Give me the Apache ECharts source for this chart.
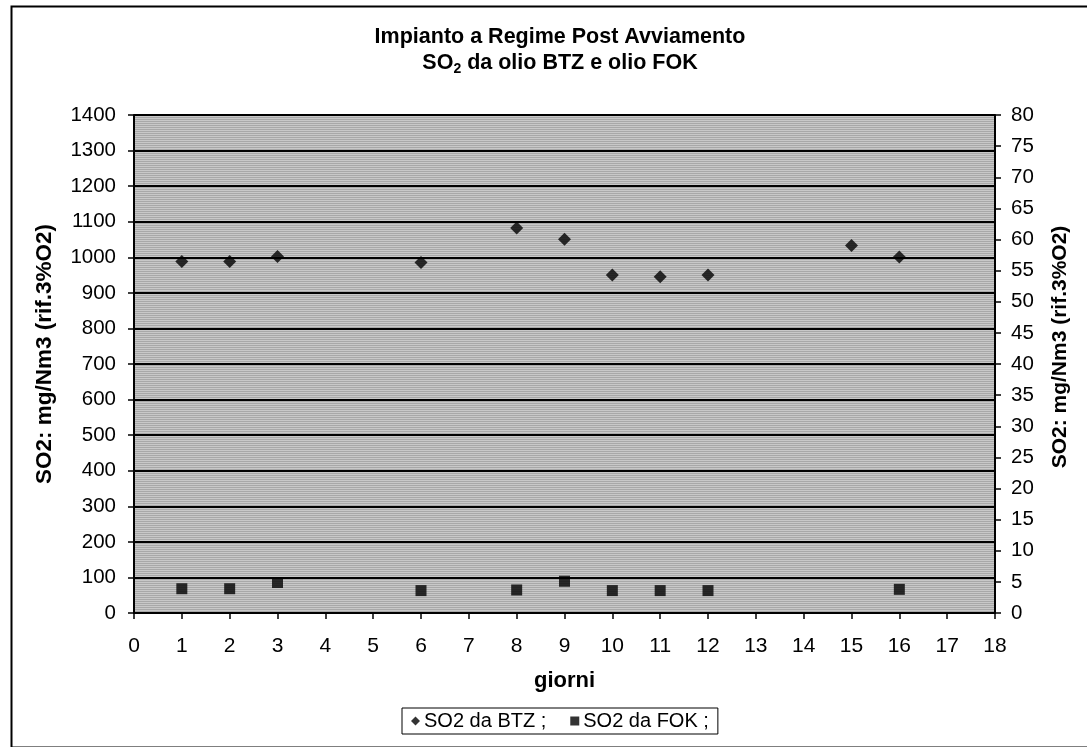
<!DOCTYPE html>
<html>
<head>
<meta charset="utf-8">
<script src="https://cdn.jsdelivr.net/npm/echarts@6/dist/echarts.min.js"></script>
<style>
html,body{margin:0;padding:0;background:#fff;}
#chart{width:1087px;height:747px;}
</style>
</head>
<body>
<div id="chart"></div>
<script>
// Data
var btzDays = [1, 2, 3, 6, 8, 9, 10, 11, 12, 15, 16];
var btzValues = [988, 988, 1002, 985, 1082, 1051, 950, 945, 950, 1033, 1001];
var fokDays = [1, 2, 3, 6, 8, 9, 10, 11, 12, 16];
var fokValues = [3.9, 3.9, 4.9, 3.6, 3.7, 5.1, 3.6, 3.6, 3.6, 3.8];
var seriesNames = ['SO2 da BTZ ;', 'SO2 da FOK ;'];
var titleLines = ['Impianto a Regime Post Avviamento', 'SO{sub|2} da olio BTZ e olio FOK'];
var axisNameLeft = 'SO2: mg/Nm3 (rif.3%O2)';
var axisNameRight = 'SO2: mg/Nm3 (rif.3%O2)';
var xName = 'giorni';

function pairs(xs, ys) { return xs.map(function (x, i) { return [x, ys[i]]; }); }
function plain(v) { return String(v); }

// background texture (decorative)
var pc = document.createElement('canvas');
pc.width = 4; pc.height = 4;
var ctx = pc.getContext('2d');
ctx.fillStyle = '#c8c8c8'; ctx.fillRect(0, 0, 4, 4);
ctx.fillStyle = '#a8a8a8'; ctx.fillRect(0, 1, 4, 1); ctx.fillRect(0, 3, 4, 1);

var FONT = 'Liberation Sans, Arial, sans-serif';
var chart = echarts.init(document.getElementById('chart'));
chart.setOption({
  animation: false,
  backgroundColor: '#ffffff',
  textStyle: { fontFamily: FONT, color: '#000' },
  title: {
    left: 560,
    textAlign: 'center',
    top: 24,
    padding: 0,
    text: titleLines.join('\n'),
    textStyle: {
      fontFamily: FONT, fontWeight: 'bold', fontSize: 21.5, lineHeight: 26, color: '#000',
      rich: { sub: { fontFamily: FONT, fontWeight: 'bold', fontSize: 14, verticalAlign: 'bottom', padding: [9, 0, 0, 0], lineHeight: 26 } }
    }
  },
  legend: {
    left: 402,
    top: 708,
    padding: [3, 9, 3, 9],
    borderColor: '#000',
    borderWidth: 1,
    itemWidth: 9,
    itemHeight: 9,
    itemGap: 24,
    textStyle: { fontFamily: FONT, fontSize: 20, color: '#000', padding: [0, 0, 0, -1] },
    data: [
      { name: seriesNames[0], icon: 'diamond' },
      { name: seriesNames[1], icon: 'rect' }
    ]
  },
  graphic: [{
    type: 'rect', left: 9, top: 4, silent: true,
    shape: { width: 1100, height: 741 },
    style: { fill: 'none', stroke: '#000', lineWidth: 2 }
  }],
  grid: {
    left: 134, right: 92, top: 115, bottom: 134,
    show: true,
    backgroundColor: { image: pc, repeat: 'repeat' },
    borderWidth: 0
  },
  xAxis: {
    type: 'value', min: 0, max: 18, interval: 1,
    name: xName, nameLocation: 'middle', nameGap: 57,
    nameTextStyle: { fontFamily: FONT, fontWeight: 'bold', fontSize: 22, color: '#000' },
    axisLine: { show: true, onZero: false, lineStyle: { color: '#000', width: 2 } },
    axisTick: { show: true, length: 6, lineStyle: { color: '#000', width: 1.5 } },
    axisLabel: { fontFamily: FONT, fontSize: 21, color: '#000', margin: 23, formatter: plain },
    splitLine: { show: false }
  },
  yAxis: [{
    type: 'value', min: 0, max: 1400, interval: 100, position: 'left',
    name: axisNameLeft, nameLocation: 'middle', nameGap: 78, nameRotate: 90,
    nameTextStyle: { fontFamily: FONT, fontWeight: 'bold', fontSize: 22.5, color: '#000', padding: [0, 0, 0, 20] },
    axisLine: { show: true, lineStyle: { color: '#000', width: 2 } },
    axisTick: { show: true, length: 6, lineStyle: { color: '#000', width: 1.5 } },
    axisLabel: { fontFamily: FONT, fontSize: 20.5, color: '#000', margin: 18, formatter: plain },
    splitLine: { show: true, lineStyle: { color: '#000', width: 2 } }
  }, {
    type: 'value', min: 0, max: 80, interval: 5, position: 'right',
    name: axisNameRight, nameLocation: 'middle', nameGap: 55, nameRotate: 90,
    nameTextStyle: { fontFamily: FONT, fontWeight: 'bold', fontSize: 21, color: '#000', padding: [0, 0, 0, 34] },
    axisLine: { show: true, lineStyle: { color: '#000', width: 2 } },
    axisTick: { show: true, length: 6, inside: false, lineStyle: { color: '#000', width: 1.5 } },
    axisLabel: { fontFamily: FONT, fontSize: 20.5, color: '#000', margin: 16, formatter: plain },
    splitLine: { show: false }
  }],
  series: [{
    name: seriesNames[0], type: 'scatter', yAxisIndex: 0,
    symbol: 'diamond', symbolSize: 13,
    itemStyle: { color: '#000' },
    data: pairs(btzDays, btzValues)
  }, {
    name: seriesNames[1], type: 'scatter', yAxisIndex: 1,
    symbol: 'rect', symbolSize: 11,
    itemStyle: { color: '#000' },
    data: pairs(fokDays, fokValues)
  }]
});
</script>
</body>
</html>
